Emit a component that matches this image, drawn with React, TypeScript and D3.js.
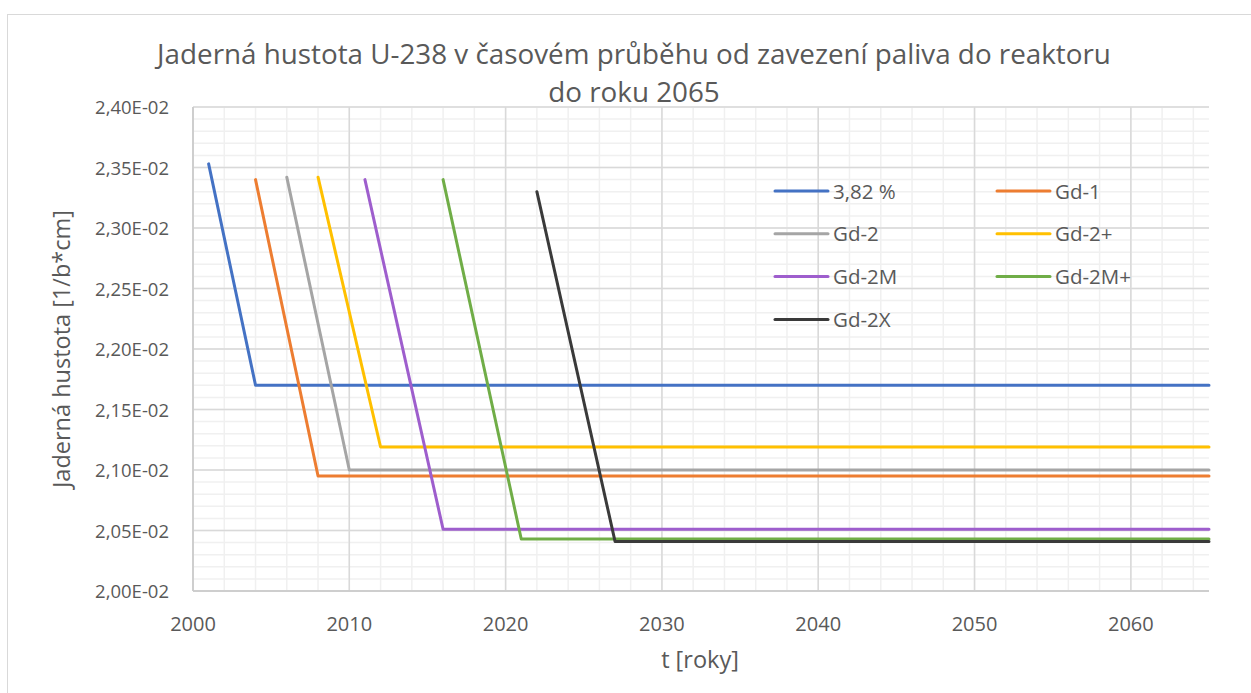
import React from "react";
import * as d3 from "d3";

const seriesNames = ["3,82 %", "Gd-1", "Gd-2", "Gd-2+", "Gd-2M", "Gd-2M+", "Gd-2X"];
const seriesColors = ["#4472c4", "#ed7d31", "#a5a5a5", "#ffc000", "#9e5ecd", "#70ad47", "#3a3a3a"];
const seriesYears = [
  [2001, 2004, 2065],
  [2004, 2008, 2065],
  [2006, 2010, 2065],
  [2008, 2012, 2065],
  [2011, 2016, 2065],
  [2016, 2021, 2065],
  [2022, 2027, 2065],
];
const seriesValues = [
  [0.02353, 0.02170, 0.02170],
  [0.02340, 0.02095, 0.02095],
  [0.02342, 0.02100, 0.02100],
  [0.02342, 0.02119, 0.02119],
  [0.02340, 0.02051, 0.02051],
  [0.02340, 0.02043, 0.02043],
  [0.02330, 0.02041, 0.02041],
];
const xTicks = [2000, 2010, 2020, 2030, 2040, 2050, 2060];
const yTicks = [0.02, 0.0205, 0.021, 0.0215, 0.022, 0.0225, 0.023, 0.0235, 0.024];
const titleLines = [
  "Jaderná hustota U-238 v časovém průběhu od zavezení paliva do reaktoru",
  "do roku 2065",
];
const xTitle = "t [roky]";
const yTitle = "Jaderná hustota [1/b*cm]";

const W = 1251, H = 693;
const L = 193, R = 1209, T = 107, B = 591;
const FONT = "'Open Sans', sans-serif";
const TXT = "#595959";

export default function App() {
  const x = d3.scaleLinear().domain([2000, 2065]).range([L, R]);
  const y = d3.scaleLinear().domain([0.02, 0.024]).range([B, T]);
  const minorX = d3.range(2000, 2066, 2);
  const minorY = d3.range(0, 41).map((i) => 0.02 + i * 0.0001);
  const line = d3.line<[number, number]>().x((d) => x(d[0])).y((d) => y(d[1]));
  const fmt = (v: number) => v.toExponential(2).replace(".", ",").replace("e-", "E-0");

  const legendCols = [775, 997];
  const legendRow0 = 191, legendDy = 42.8;

  return (
    <svg width={W} height={H} style={{ position: "absolute", left: 0, top: 0, background: "#fff" }} fontFamily={FONT}>
      <rect x={7.5} y={14.5} width={1260} height={700} fill="#fff" stroke="#d9d9d9" />
      {minorX.map((v) => (
        <line key={"mx" + v} x1={x(v)} x2={x(v)} y1={T} y2={B} stroke="#f0f0f0" strokeWidth={1.5} />
      ))}
      {minorY.map((v, i) => (
        <line key={"my" + i} x1={L} x2={R} y1={y(v)} y2={y(v)} stroke="#f0f0f0" strokeWidth={1.5} />
      ))}
      {xTicks.map((v) => (
        <line key={"gx" + v} x1={x(v)} x2={x(v)} y1={T} y2={B} stroke="#d9d9d9" strokeWidth={1.5} />
      ))}
      {yTicks.map((v, i) => (
        <line key={"gy" + i} x1={L} x2={R} y1={y(v)} y2={y(v)} stroke="#d9d9d9" strokeWidth={1.5} />
      ))}
      <line x1={L} x2={L} y1={T} y2={B} stroke="#c8c8c8" strokeWidth={1.5} />
      <line x1={L} x2={R} y1={B} y2={B} stroke="#c8c8c8" strokeWidth={1.5} />

      {seriesNames.map((n, i) => (
        <path
          key={n}
          d={line(seriesYears[i].map((yr, j) => [yr, seriesValues[i][j]] as [number, number])) || ""}
          fill="none"
          stroke={seriesColors[i]}
          strokeWidth={3}
          strokeLinejoin="round"
          strokeLinecap="round"
        />
      ))}

      {xTicks.map((v) => (
        <text key={"tx" + v} x={x(v)} y={630.5} textAnchor="middle" fontSize={20} fill={TXT}>{v}</text>
      ))}
      {yTicks.map((v, i) => (
        <text key={"ty" + i} x={169} y={y(v) + 7} textAnchor="end" fontSize={18.5} fill={TXT}>{fmt(v)}</text>
      ))}

      {titleLines.map((t, i) => (
        <text key={"t" + i} x={634} y={64 + i * 38} textAnchor="middle" fontSize={27.8} fill={TXT}>{t}</text>
      ))}
      <text x={700} y={668} textAnchor="middle" fontSize={23.5} fill={TXT}>{xTitle}</text>
      <text transform={`translate(70,${(T + B) / 2}) rotate(-90)`} textAnchor="middle" fontSize={23.5} fill={TXT}>{yTitle}</text>

      {seriesNames.map((n, i) => {
        const cx = legendCols[i % 2];
        const cy = legendRow0 + Math.floor(i / 2) * legendDy;
        return (
          <g key={"lg" + n}>
            <line x1={cx} x2={cx + 53} y1={cy} y2={cy} stroke={seriesColors[i]} strokeWidth={3} strokeLinecap="round" />
            <text x={cx + 58} y={cy + 7.5} fontSize={20.5} fill={TXT}>{n}</text>
          </g>
        );
      })}
    </svg>
  );
}
